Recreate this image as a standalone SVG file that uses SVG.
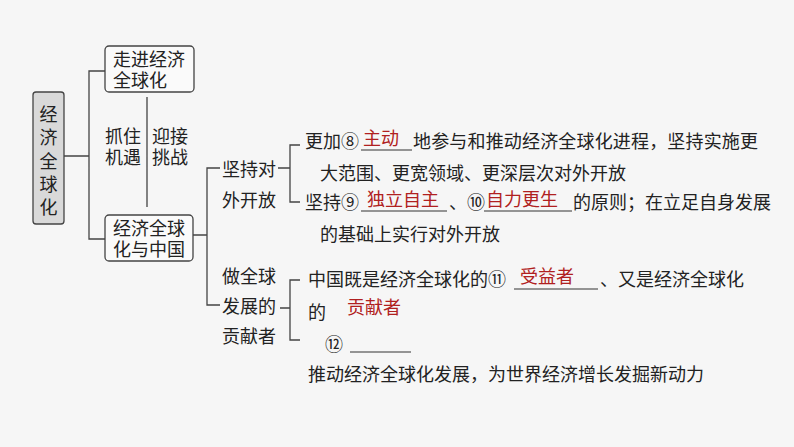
<svg xmlns="http://www.w3.org/2000/svg" width="794" height="447" viewBox="0 0 794 447">
<style>
text{font-family:"Noto Sans CJK SC","Liberation Sans",sans-serif;fill:#222;}
.n{font-size:18px;}
.t{font-size:18px;}
.r{fill:#b02020;}
.ln{stroke:#444;stroke-width:1.3;fill:none;}
.box{fill:#fafafa;stroke:#444;stroke-width:1.3;}
.ul{stroke:#333;stroke-width:1;}
</style>
<rect width="794" height="447" fill="#f6f6f6"/>
<g id="connectors">
<path class="ln" d="M64 156H89M105 71H89V239H105M147 97V207M193 235H207M220 168H207V305H220M278 168H290M300 145H290V202H300M280 308H290M300 280H290V340H300"/>
</g>
<g id="root">
<rect x="33" y="92" width="31" height="132" rx="3" fill="#d9d9d9" stroke="#444" stroke-width="1.3"/>
<text class="n" x="48.5" text-anchor="middle"><tspan x="48.5" y="121">经</tspan><tspan x="48.5" y="144">济</tspan><tspan x="48.5" y="168">全</tspan><tspan x="48.5" y="191">球</tspan><tspan x="48.5" y="214">化</tspan></text>
</g>
<g id="n1">
<rect class="box" x="105" y="46" width="89" height="46" rx="4"/>
<text class="n" x="113" y="66">走进经济</text><text class="n" x="113" y="87">全球化</text>
</g>
<g id="n2">
<rect class="box" x="105" y="215" width="88" height="46" rx="4"/>
<text class="n" x="113" y="235">经济全球</text><text class="n" x="113" y="256">化与中国</text>
</g>
<g id="rel">
<text class="n" x="105" y="143">抓住</text><text class="n" x="105" y="164">机遇</text>
<text class="n" x="152" y="143">迎接</text><text class="n" x="152" y="164">挑战</text>
</g>
<g id="n3"><text class="n" x="222" y="176">坚持对</text><text class="n" x="222" y="207">外开放</text></g>
<g id="n4"><text class="n" x="222" y="283">做全球</text><text class="n" x="222" y="313">发展的</text><text class="n" x="222" y="343">贡献者</text></g>
<g id="d1">
<text class="t" x="305" y="148">更加⑧</text>
<text class="t r" x="363" y="145">主动</text><line class="ul" x1="361" y1="150" x2="412" y2="150"/>
<text class="t" x="413" y="148" textLength="345">地参与和推动经济全球化进程，坚持实施更</text>
<text class="t" x="320" y="180">大范围、更宽领域、更深层次对外开放</text>
</g>
<g id="d2">
<text class="t" x="305" y="209">坚持⑨</text>
<text class="t r" x="367" y="206">独立自主</text><line class="ul" x1="361" y1="211" x2="447" y2="211"/>
<text class="t" x="449" y="209">、⑩</text>
<text class="t r" x="486" y="206">自力更生</text><line class="ul" x1="484" y1="211" x2="572" y2="211"/>
<text class="t" x="573" y="209">的原则；在立足自身发展</text>
<text class="t" x="320" y="241">的基础上实行对外开放</text>
</g>
<g id="d3">
<text class="t" x="308" y="286">中国既是经济全球化的⑪</text>
<text class="t r" x="520" y="283">受益者</text><line class="ul" x1="514" y1="289" x2="598" y2="289"/>
<text class="t" x="600" y="286">、又是经济全球化</text>
<text class="t" x="308" y="319">的</text>
<text class="t r" x="347" y="314">贡献者</text>
<text class="t" x="325" y="351">⑫</text><line class="ul" x1="350" y1="352" x2="411" y2="352"/>
<text class="t" x="308" y="381">推动经济全球化发展，为世界经济增长发掘新动力</text>
</g>
</svg>
